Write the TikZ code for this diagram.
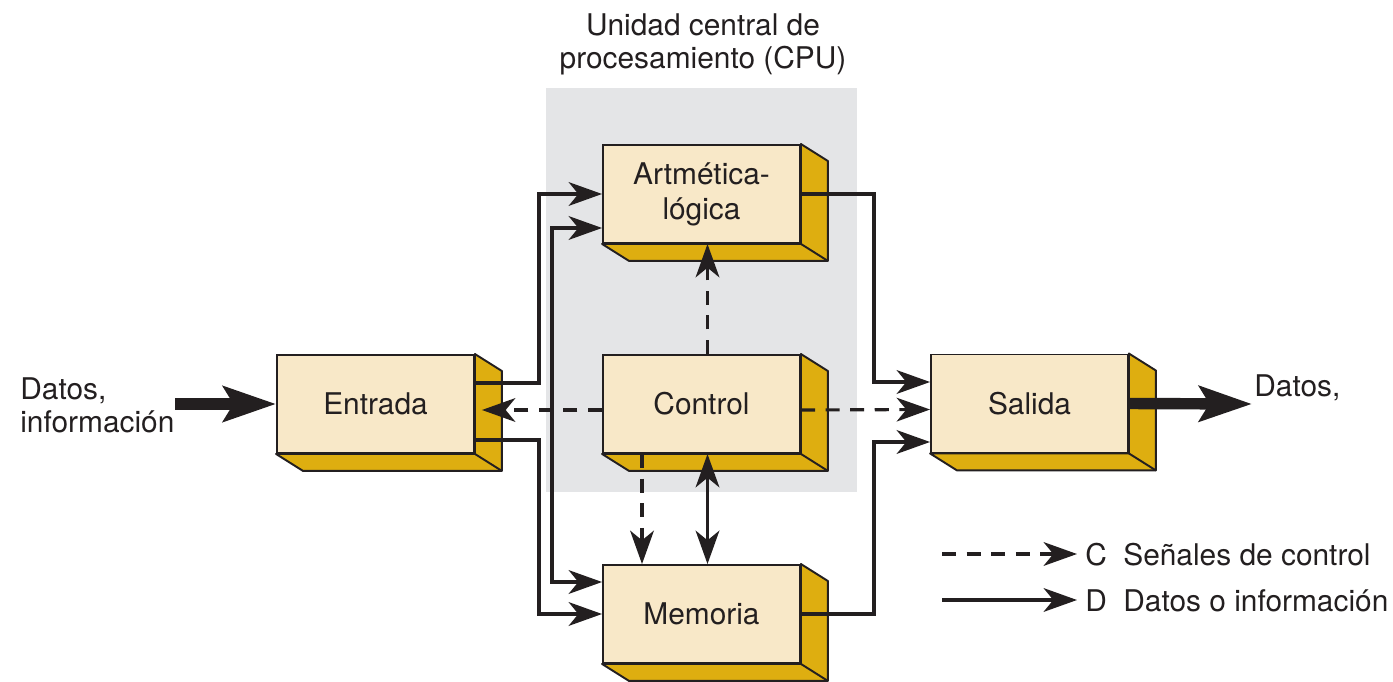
\documentclass[tikz,border=0pt]{standalone}
\usepackage{fontspec}
\setmainfont{TeX Gyre Heros}
\usetikzlibrary{arrows.meta}
\definecolor{cara}{RGB}{248,232,200}
\definecolor{lado}{RGB}{222,174,16}
\definecolor{gris}{RGB}{228,229,231}
\definecolor{tinta}{RGB}{35,31,32}

\begin{document}
\begin{tikzpicture}[
  x=0.02cm, y=-0.02cm,
  punta/.tip={Stealth[length=19pt, width=13.5pt, inset=5.5pt, fill=tinta]},
  unidad/.style={draw=tinta, line width=1.1pt, fill=cara, minimum width=3.94cm, minimum height=1.96cm, align=center, font=\fontsize{17}{20}\selectfont, text=tinta},
  lado3d/.style={draw=tinta, line width=1.1pt, fill=lado, line join=round},
  dato/.style={draw=tinta, line width=1.8pt, -punta},
  ambos/.style={draw=tinta, line width=1.8pt, punta-punta},
  senal/.style={dato, dash pattern=on 8pt off 6pt},
  grueso/.style={draw=tinta, line width=6.5pt, -{Stealth[length=1.05cm, width=0.7cm, inset=0.2cm]}},
  etiq/.style={inner sep=0pt, font=\fontsize{17}{18.7}\selectfont, text=tinta}
]
\useasboundingbox (0,0) rectangle (1393,682);

% CPU zone
\fill[gris] (546,88) rectangle (857,492);
\node[etiq, align=center] (cpu) at (703,44) {Unidad central de\\procesamiento (CPU)};

% Units (front faces)
\node[unidad] (alu)  at (701.5,194) {Artmética-\\lógica};
\node[unidad] (ctrl) at (701.5,404) {Control};
\node[unidad] (mem)  at (701.5,614) {Memoria};
\node[unidad] (ent)  at (375.5,404) {Entrada};
\node[unidad] (sal)  at (1029.5,403.5) {Salida};

% 3D sides
\foreach \b in {alu,ctrl,mem,ent,sal} {
  \filldraw[lado3d] (\b.south west) -- ++(27,17) -- ([shift={(27,17)}]\b.south east)
    -- ([shift={(27,17)}]\b.north east) -- (\b.north east) -- (\b.south east) -- cycle;
  \draw[lado3d] (\b.south east) -- ++(27,17);
}

% Data paths
\draw[dato] ([yshift=0.42cm]ent.east) -- ++(64,0) |- (alu.west);
\draw[dato] ([yshift=-0.72cm]ent.east) -- ++(64,0) |- (mem.west);
\draw[ambos] ([yshift=-0.68cm]alu.west) -- ++(-50,0) |- ([yshift=0.64cm]mem.west);
\draw[dato] (alu.east) -- ++(73,0) |- ([yshift=0.43cm]sal.west);
\draw[dato] (mem.east) -- ++(73,0) |- ([yshift=-0.77cm]sal.west);
\draw[ambos] ([xshift=0.12cm]ctrl.south) -- ([xshift=0.12cm]mem.north);

% Control signals
\draw[senal] ([yshift=-0.12cm]ctrl.east) -- ([yshift=-0.12cm]sal.west);
\draw[senal] ([yshift=-0.12cm]ctrl.west) -- ([xshift=0.14cm,yshift=-0.12cm]ent.east);
\draw[senal] ([xshift=0.12cm]ctrl.north) -- ([xshift=0.12cm]alu.south);
\draw[senal] ([xshift=-1.19cm]ctrl.south) -- ([xshift=-1.19cm]mem.north);

% Input / output
\node[etiq, align=left, anchor=west] (datin) at (20,405) {Datos,\\información};
\coordinate (inicio) at (175,404);
\draw[grueso] (inicio) -- (ent.west);
\coordinate (fin) at (1252,404);
\draw[grueso] (sal.east) -- (fin);
\node[etiq, anchor=base west] (datout) at (1254,396) {Datos,};

% Legend
\coordinate (c1) at (942,554);
\coordinate (c2) at (1077,554);
\coordinate (d1) at (942,600);
\coordinate (d2) at (1077,600);
\draw[senal] (c1) -- (c2);
\draw[dato] (d1) -- (d2);
\node[etiq, anchor=base west] (lc) at (1085,565) {C};
\node[etiq, anchor=base west] (lcs) at (1123,565) {Señales de control};
\node[etiq, anchor=base west] (ld) at (1085,611) {D};
\node[etiq, anchor=base west] (lds) at (1123,611) {Datos o información};

\end{tikzpicture}
\end{document}
